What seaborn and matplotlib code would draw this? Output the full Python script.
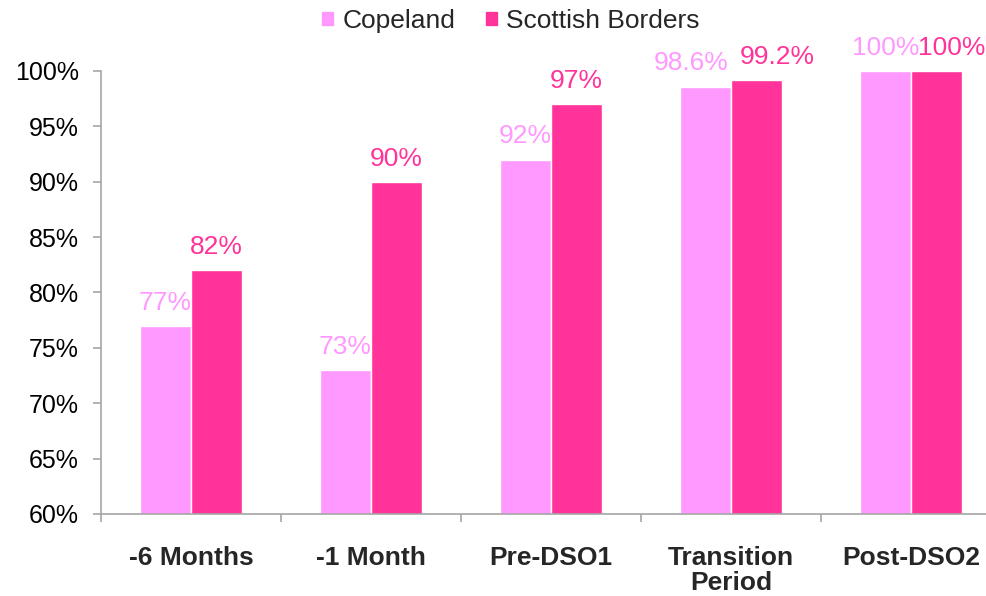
import pandas as pd
import seaborn as sns
import matplotlib.pyplot as plt
from matplotlib.ticker import FixedLocator, FuncFormatter

periods = ['-6 Months', '-1 Month', 'Pre-DSO1', 'Transition\nPeriod', 'Post-DSO2']
series_names = ['Copeland', 'Scottish Borders']
copeland = [77, 73, 92, 98.6, 100]
scottish = [82, 90, 97, 99.2, 100]
colors = {'Copeland': '#ff99ff', 'Scottish Borders': '#ff3399'}

df = pd.DataFrame({
    'period': periods * 2,
    'area': [series_names[0]] * len(periods) + [series_names[1]] * len(periods),
    'value': copeland + scottish,
})

sns.set_theme(style='white')
plt.rcParams['font.family'] = ['Liberation Sans', 'DejaVu Sans']

fig = plt.figure(figsize=(9.87, 5.96), dpi=100)
# axes runs past the right edge, as in the original
ax = fig.add_axes([101 / 987, 82 / 596, 900 / 987, 443 / 596])

sns.barplot(data=df, x='period', y='value', hue='area', palette=colors,
            width=0.567, saturation=1, ax=ax, legend=True)

ax.set_ylim(60, 100)
ax.set_xlim(-0.5, len(periods) - 0.5)
ax.set_yticks(range(60, 101, 5))
ax.yaxis.set_major_formatter(FuncFormatter(lambda v, p: f'{v:.0f}%'))
ax.set_xlabel('')
ax.set_ylabel('')

# nudge crowded labels sideways (points), like the original layout
nudges = {('Copeland', 3): -10, ('Scottish Borders', 3): 15,
          ('Scottish Borders', 4): 11}
for c, name in zip(ax.containers, series_names):
    anns = ax.bar_label(c, labels=[f'{v:g}%' for v in c.datavalues], padding=8,
                        color=colors[name], fontsize=19)
    for i, a in enumerate(anns):
        dx = nudges.get((name, i), 0)
        if dx:
            a.xyann = (dx, a.xyann[1])

for s in ['top', 'right']:
    ax.spines[s].set_visible(False)
for s in ['left', 'bottom']:
    ax.spines[s].set_color('#a6a6a6')
    ax.spines[s].set_linewidth(1.2)

ax.tick_params(axis='y', which='major', left=True, length=6, width=1.2,
               color='#a6a6a6', labelsize=18, pad=10, labelcolor='black')
ax.tick_params(axis='x', which='major', bottom=False, labelsize=19, pad=17)
ax.xaxis.set_minor_locator(FixedLocator([i - 0.5 for i in range(len(periods) + 1)]))
ax.tick_params(axis='x', which='minor', bottom=True, length=6, width=1.2,
               color='#a6a6a6', direction='out')
for lbl in ax.get_xticklabels():
    lbl.set_fontweight('bold')
    lbl.set_linespacing(1.05)

ax.legend_.remove()
handles = [plt.Rectangle((0, 0), 1, 1, color=colors[n]) for n in series_names]
fig.legend(handles, series_names, loc='center', bbox_to_anchor=(511 / 987, 1 - 21 / 596),
           ncol=2, frameon=False, fontsize=19, handlelength=0.42, handleheight=0.42,
           handletextpad=0.34, columnspacing=1.17, borderaxespad=0, borderpad=0)

fig.savefig('out.png', dpi=100)
